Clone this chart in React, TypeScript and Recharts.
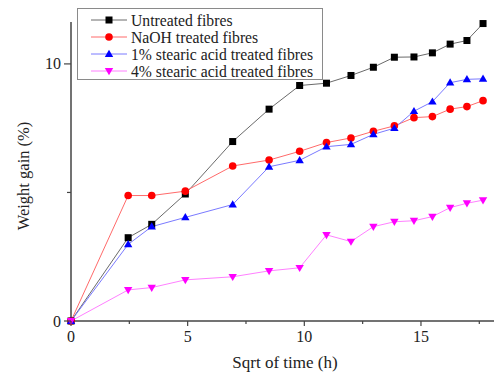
import { LineChart, Line, XAxis, YAxis } from 'recharts'

const SQRT_T = [0, 2.45, 3.46, 4.9, 6.93, 8.49, 9.8, 10.95, 12, 12.96, 13.86, 14.7, 15.49, 16.25, 16.97, 17.66]
const UNTREATED = [0, 3.24, 3.76, 4.94, 6.98, 8.24, 9.16, 9.25, 9.55, 9.87, 10.26, 10.27, 10.43, 10.77, 10.91, 11.57]
const NAOH = [0, 4.88, 4.88, 5.05, 6.03, 6.26, 6.6, 6.94, 7.12, 7.38, 7.59, 7.91, 7.95, 8.24, 8.34, 8.57]
const STEARIC_1 = [0, 2.98, 3.67, 4.03, 4.53, 6.0, 6.25, 6.78, 6.87, 7.26, 7.5, 8.16, 8.53, 9.27, 9.4, 9.42]
const STEARIC_4 = [0, 1.21, 1.3, 1.6, 1.72, 1.95, 2.07, 3.35, 3.09, 3.67, 3.86, 3.9, 4.06, 4.41, 4.58, 4.7]

const X_TICKS = [0, 2.5, 5, 7.5, 10, 12.5, 15, 17.5]
const Y_TICKS = [0, 5, 10]

const FONT = '"Liberation Serif", "Times New Roman", serif'
const AXIS = '#444'

type MarkerKind = 'square' | 'circle' | 'up' | 'down'

const SERIES: { key: string; name: string; line: string; fill: string; marker: MarkerKind }[] = [
  { key: 'untreated', name: 'Untreated fibres', line: '#6a6a6a', fill: '#000', marker: 'square' },
  { key: 'naoh', name: 'NaOH treated fibres', line: '#ff6a6a', fill: '#ff0000', marker: 'circle' },
  { key: 's1', name: '1% stearic acid treated fibres', line: '#7a7aff', fill: '#0000ff', marker: 'up' },
  { key: 's4', name: '4% stearic acid treated fibres', line: '#ff80ff', fill: '#ff00ff', marker: 'down' },
]

const data = SQRT_T.map((t, i) => ({
  t,
  untreated: UNTREATED[i],
  naoh: NAOH[i],
  s1: STEARIC_1[i],
  s4: STEARIC_4[i],
}))

function Marker({ kind, cx, cy, fill }: { kind: MarkerKind; cx: number; cy: number; fill: string }) {
  if (kind === 'square') return <rect x={cx - 3.5} y={cy - 3.5} width={7} height={7} fill={fill} />
  if (kind === 'circle') return <circle cx={cx} cy={cy} r={3.8} fill={fill} />
  if (kind === 'up')
    return <polygon points={`${cx},${cy - 4.3} ${cx - 4.2},${cy + 2.9} ${cx + 4.2},${cy + 2.9}`} fill={fill} />
  return <polygon points={`${cx},${cy + 4.3} ${cx - 4.2},${cy - 2.9} ${cx + 4.2},${cy - 2.9}`} fill={fill} />
}

function XTick(props: any) {
  const { x, y, payload } = props
  const major = payload.value % 5 === 0
  return (
    <g>
      <line x1={x} x2={x} y1={y} y2={y + (major ? 5 : 3)} stroke={AXIS} strokeWidth={1.2} />
      {major && (
        <text x={x} y={y + 21} textAnchor="middle" fontSize={16} fontFamily={FONT} fill="#222">
          {payload.value}
        </text>
      )}
    </g>
  )
}

function YTick(props: any) {
  const { x, y, payload } = props
  const major = payload.value % 10 === 0
  return (
    <g>
      <line x1={x} x2={x - (major ? 7 : 4)} y1={y} y2={y} stroke={AXIS} strokeWidth={1.2} />
      {major && (
        <text x={x - 10} y={y + 5.5} textAnchor="end" fontSize={16} fontFamily={FONT} fill="#222">
          {payload.value}
        </text>
      )}
    </g>
  )
}

function LegendBox() {
  return (
    <svg width={246} height={72} style={{ display: 'block' }}>
      <rect x={0.5} y={0.5} width={245} height={71} fill="#fff" stroke="#8a8a8a" strokeWidth={1} />
      {SERIES.map((s, i) => {
        const cy = 12 + i * 17
        return (
          <g key={s.key}>
            <line x1={14} x2={50} y1={cy} y2={cy} stroke={s.line} strokeWidth={1} />
            <Marker kind={s.marker} cx={32} cy={cy} fill={s.fill} />
            <text x={54} y={cy + 5.5} fontSize={15.7} fontFamily={FONT} fill="#222">
              {s.name}
            </text>
          </g>
        )
      })}
    </svg>
  )
}

export default function App() {
  return (
    <div style={{ position: 'fixed', left: 0, top: 0, width: 494, height: 376, background: '#fff' }}>
      <LineChart width={494} height={376} data={data} margin={{ top: 22, right: 0, bottom: 15, left: 21 }}>
        <XAxis
          dataKey="t"
          type="number"
          domain={[0, 18.13]}
          ticks={X_TICKS}
          interval={0}
          tick={<XTick />}
          tickLine={false}
          tickSize={0}
          tickMargin={0}
          height={40}
          stroke={AXIS}
          strokeWidth={1.5}
          label={{
            content: () => (
              <text x={285} y={368} textAnchor="middle" fontSize={17} fontFamily={FONT} fill="#222">
                Sqrt of time (h)
              </text>
            ),
          }}
        />
        <YAxis
          type="number"
          domain={[0, 11.63]}
          ticks={Y_TICKS}
          interval={0}
          tick={<YTick />}
          tickLine={false}
          tickSize={0}
          tickMargin={0}
          width={50}
          stroke={AXIS}
          strokeWidth={1.5}
          label={{
            content: () => (
              <text
                x={23}
                y={176}
                transform="rotate(-90 23 176)"
                textAnchor="middle"
                dominantBaseline="central"
                fontSize={16.5}
                fontFamily={FONT}
                fill="#222"
              >
                Weight gain (%)
              </text>
            ),
          }}
        />
        {SERIES.map(s => (
          <Line
            key={s.key}
            dataKey={s.key}
            name={s.name}
            stroke={s.line}
            strokeWidth={1}
            isAnimationActive={false}
            dot={(p: any) => <Marker key={`${s.key}-${p.index}`} kind={s.marker} cx={p.cx} cy={p.cy} fill={s.fill} />}
            activeDot={false}
          />
        ))}
      </LineChart>
      <div style={{ position: 'absolute', left: 77, top: 8 }}>
        <LegendBox />
      </div>
    </div>
  )
}
